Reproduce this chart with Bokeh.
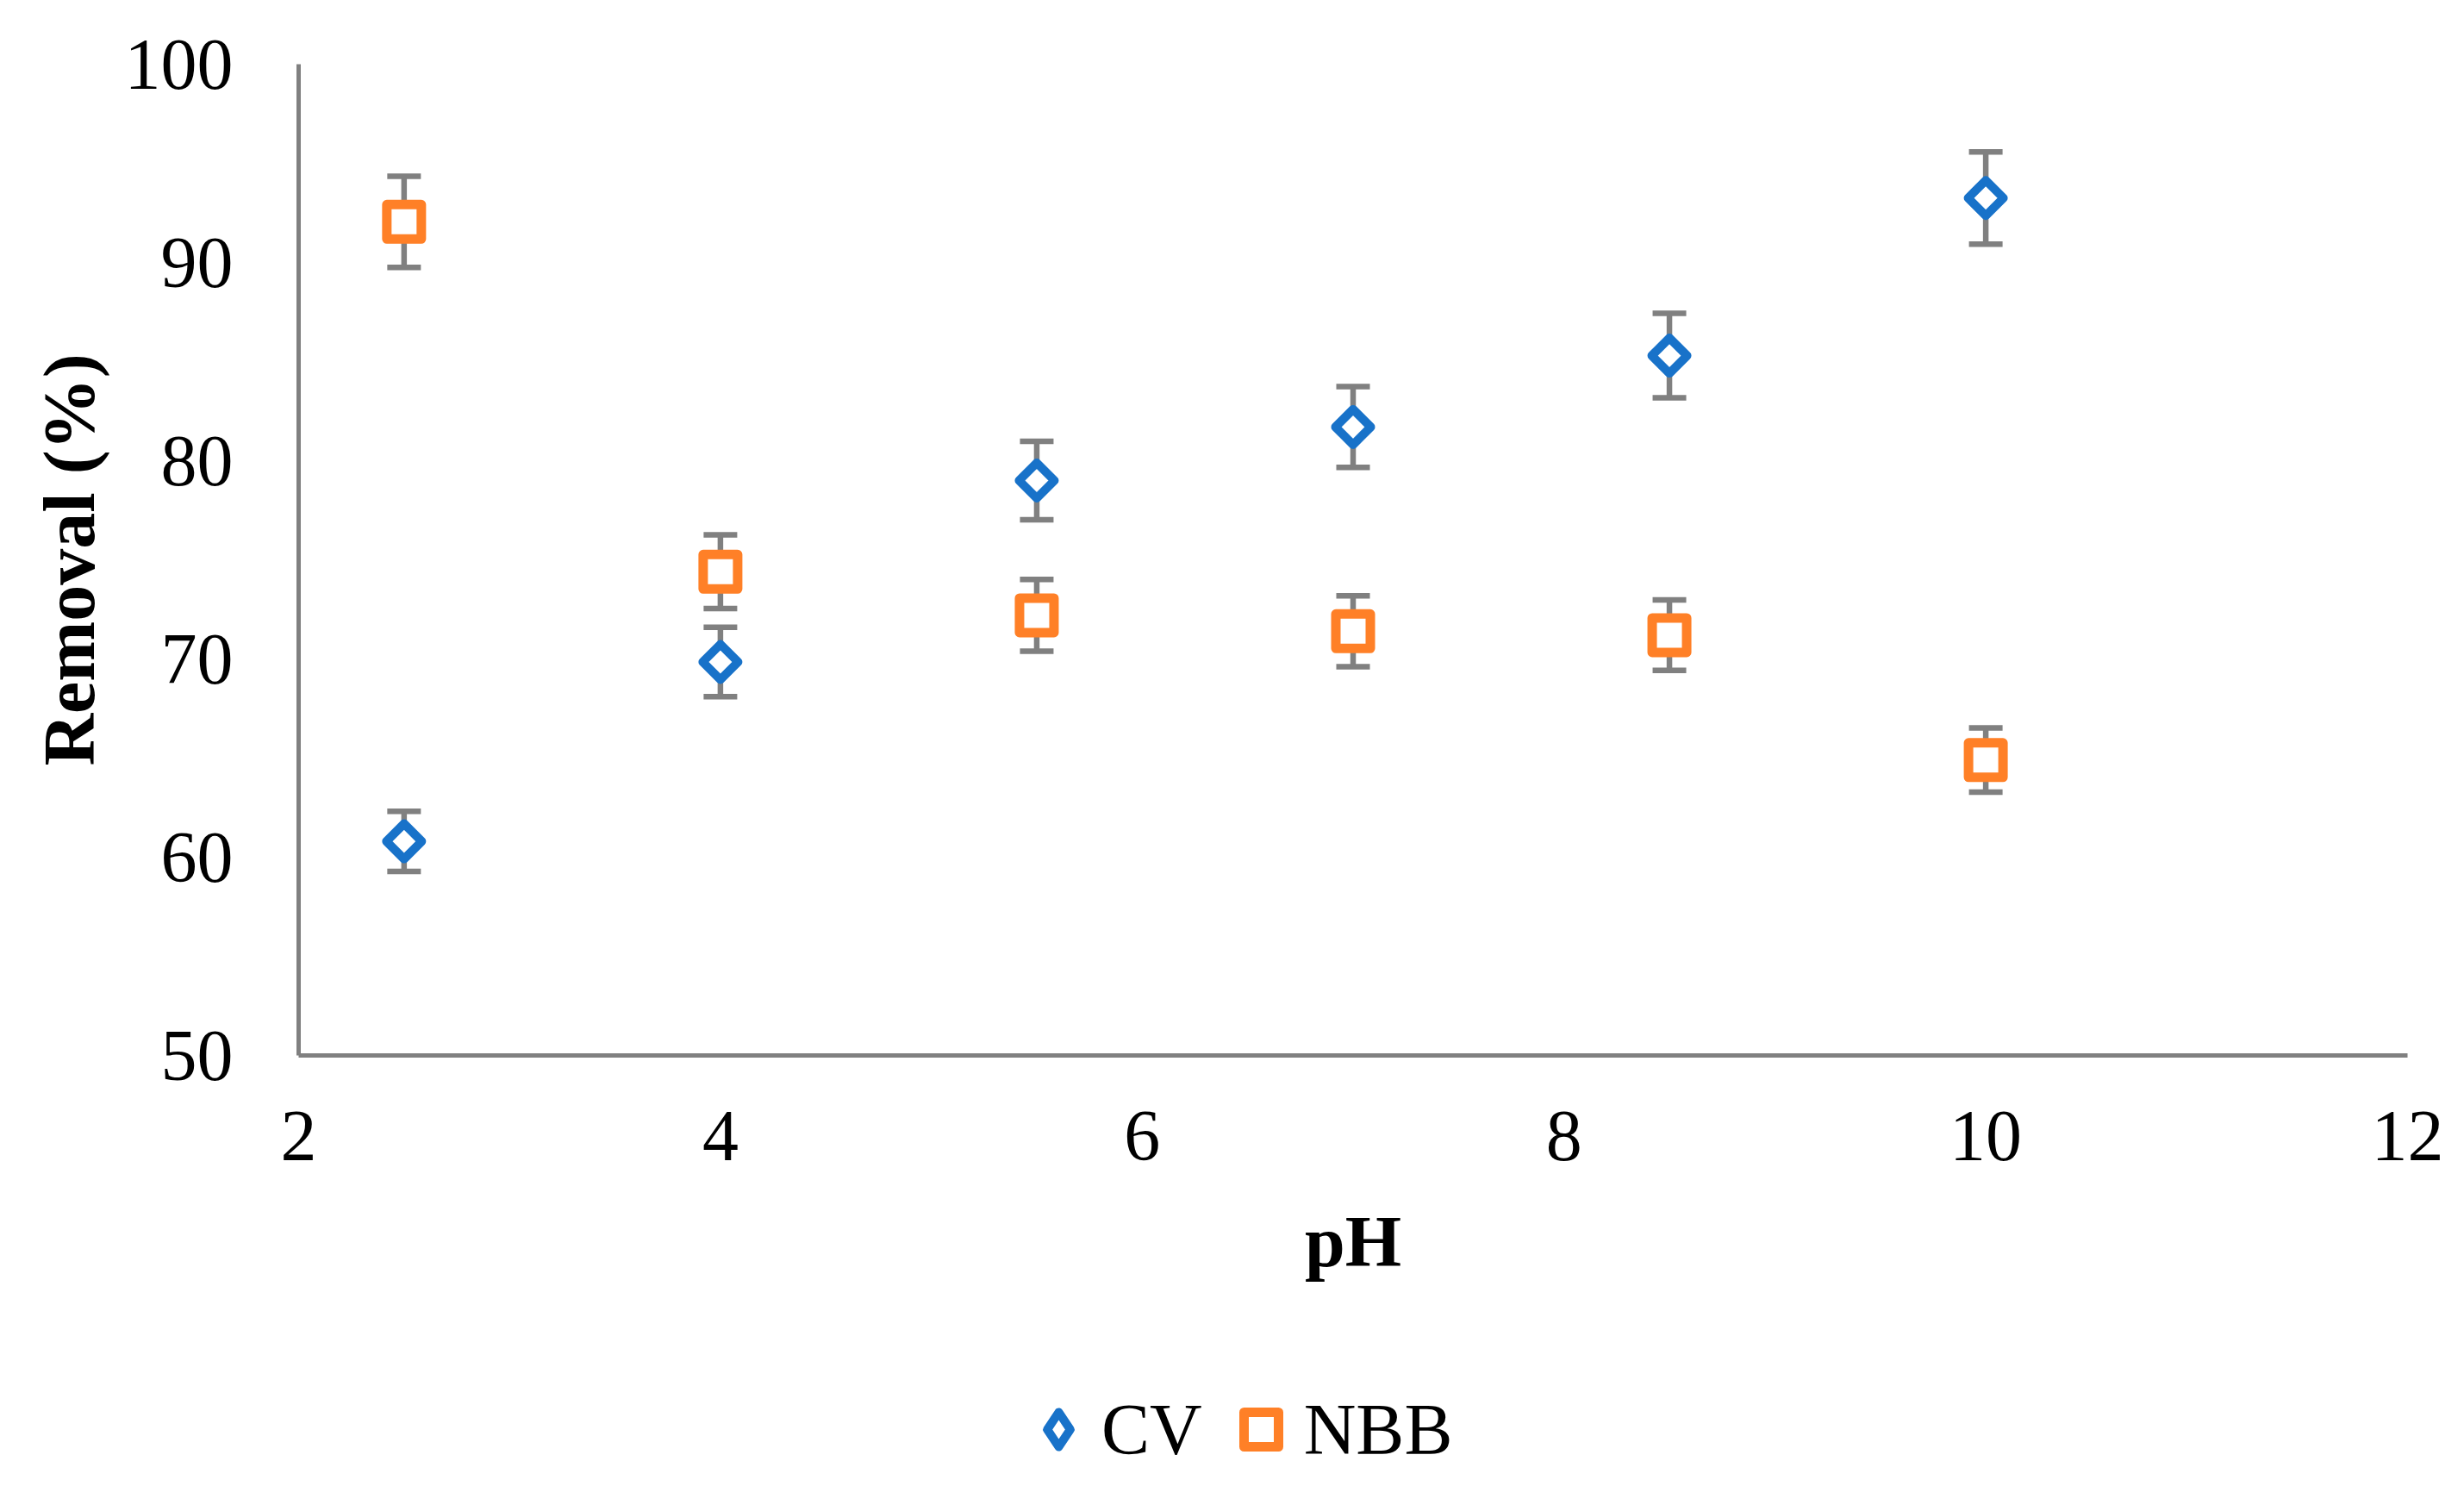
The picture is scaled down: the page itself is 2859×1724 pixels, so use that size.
from bokeh.plotting import figure
from bokeh.layouts import column
from bokeh.models import (FixedTicker, Whisker, TeeHead, ColumnDataSource,
                          Legend, LegendItem)
from bokeh.embed import file_html
from bokeh.resources import INLINE
import math

# ---- data ----
ph = [2.5, 4.0, 5.5, 7.0, 8.5, 10.0]
cv_removal = [60.8, 69.85, 79.0, 81.7, 85.3, 93.25]
cv_err = [1.52, 1.75, 1.98, 2.04, 2.13, 2.33]
nbb_removal = [92.05, 74.4, 72.2, 71.4, 71.2, 64.9]
nbb_err = [2.30, 1.86, 1.81, 1.79, 1.78, 1.62]
x_ticks = [2, 4, 6, 8, 10, 12]
y_ticks = [50, 60, 70, 80, 90, 100]
series_names = ["CV", "NBB"]

BLUE = "#1872C9"
ORANGE = "#FF8027"
GRAY = "#808080"
FONT = "Liberation Serif"

p = figure(width=2843, height=1560, x_range=(2, 12), y_range=(50, 100),
           output_backend="svg", toolbar_location=None,
           min_border_left=346, min_border_right=50,
           min_border_top=74, min_border_bottom=336)
p.outline_line_color = None
p.grid.grid_line_color = None
p.background_fill_color = "white"
p.border_fill_color = "white"

for ax in (p.xaxis[0], p.yaxis[0]):
    ax.axis_line_color = GRAY
    ax.axis_line_width = 5
    ax.major_tick_line_color = None
    ax.minor_tick_line_color = None
    ax.major_tick_in = 0
    ax.major_tick_out = 0
    ax.major_label_text_font = FONT
    ax.major_label_text_font_size = "84px"
    ax.major_label_text_color = "black"
    ax.axis_label_text_font = FONT
    ax.axis_label_text_font_size = "84px"
    ax.axis_label_text_font_style = "bold"
    ax.axis_label_text_color = "black"

p.xaxis[0].ticker = FixedTicker(ticks=x_ticks)
p.yaxis[0].ticker = FixedTicker(ticks=y_ticks)
p.xaxis[0].axis_label = "pH"
p.yaxis[0].axis_label = "Removal (%)"
p.xaxis[0].major_label_standoff = 65
p.xaxis[0].axis_label_standoff = 45
p.yaxis[0].major_label_standoff = 76
p.yaxis[0].axis_label_standoff = 15

src_cv = ColumnDataSource(dict(x=ph, y=cv_removal,
                               lo=[v - e for v, e in zip(cv_removal, cv_err)],
                               hi=[v + e for v, e in zip(cv_removal, cv_err)]))
src_nbb = ColumnDataSource(dict(x=ph, y=nbb_removal,
                                lo=[v - e for v, e in zip(nbb_removal, nbb_err)],
                                hi=[v + e for v, e in zip(nbb_removal, nbb_err)]))

for src in (src_cv, src_nbb):
    w = Whisker(source=src, base="x", lower="lo", upper="hi",
                line_color=GRAY, line_width=6.5, level="underlay",
                upper_head=TeeHead(size=39, line_color=GRAY, line_width=6.5),
                lower_head=TeeHead(size=39, line_color=GRAY, line_width=6.5))
    p.add_layout(w)

r_cv = p.scatter("x", "y", source=src_cv, marker="square", size=29,
                 angle=math.pi / 4, line_color=BLUE, line_width=10,
                 fill_color="white", line_join="round")
r_nbb = p.scatter("x", "y", source=src_nbb, marker="square", size=40,
                  line_color=ORANGE, line_width=11, fill_color="white",
                  line_join="round")

# ---- legend strip below the chart (same series, plotted out of view there;
#      only their legend entries show) ----
pl = figure(width=2843, height=148, x_range=(0, 1), y_range=(0, 1),
            output_backend="svg", toolbar_location=None,
            x_axis_location=None, y_axis_location=None, min_border=0)
pl.outline_line_color = None
pl.grid.grid_line_color = None
lg_cv = pl.scatter(x=ph, y=cv_removal, marker="diamond", size=40,
                   line_color=BLUE, line_width=10, fill_color="white",
                   line_join="round")
lg_nbb = pl.scatter(x=ph, y=nbb_removal, marker="square", size=40,
                    line_color=ORANGE, line_width=11, fill_color="white",
                    line_join="round")
legend = Legend(items=[LegendItem(label=series_names[0], renderers=[lg_cv]),
                       LegendItem(label=series_names[1], renderers=[lg_nbb])],
                orientation="horizontal", location=(832, 0),
                label_text_font=FONT, label_text_font_size="84px",
                label_text_color="black", glyph_width=100, glyph_height=100,
                label_standoff=0, spacing=18, padding=0, margin=0,
                border_line_color=None, background_fill_alpha=0)
pl.add_layout(legend)

layout = column(p, pl, spacing=0)
open("out.html", "w").write(file_html(layout, INLINE))
